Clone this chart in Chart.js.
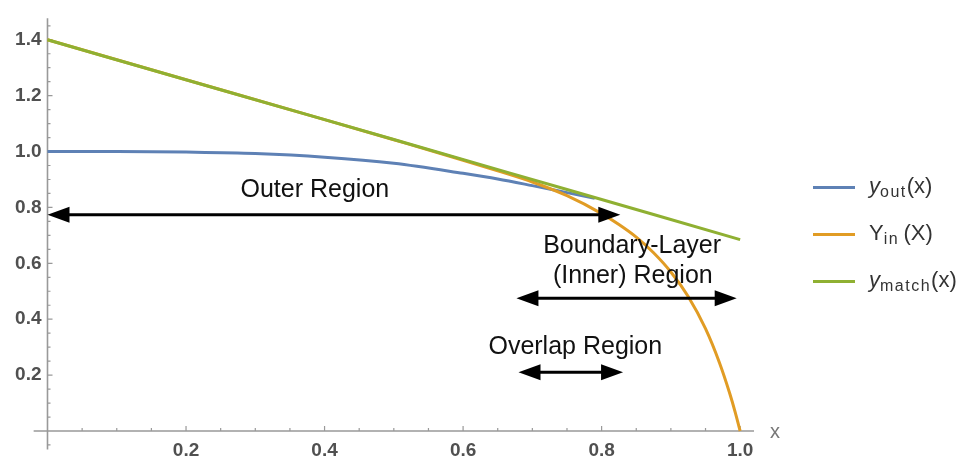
<!DOCTYPE html>
<html>
<head>
<meta charset="utf-8">
<script src="https://cdn.jsdelivr.net/npm/chart.js@4.4.1/dist/chart.umd.min.js"></script>
<style>
  html, body { margin: 0; padding: 0; background: #fff; }
  #wrap { position: relative; width: 971px; height: 463px; overflow: hidden; }
  #c { position: absolute; left: 0; top: 0; }
  .ln { position: absolute; left: 813px; width: 42px; height: 3px; }
  .tx { position: absolute; left: 869px; font-family: "Liberation Sans", Arial, sans-serif;
        font-size: 22px; color: #333; white-space: nowrap; line-height: 22px; }
  .tx sub { font-size: 16px; letter-spacing: 1.5px; vertical-align: -4px; line-height: 0; }
</style>
</head>
<body>
<div id="wrap">
  <canvas id="c" width="971" height="463"></canvas>
  <div id="legend"></div>
</div>
<script>
// ---- data ----
const xOut   = [0, 0.1, 0.2, 0.3, 0.4, 0.5, 0.6, 0.65, 0.7, 0.75, 0.79];
const yOut   = [1.000, 1.000, 0.998, 0.993, 0.980, 0.958, 0.922, 0.902, 0.878, 0.853, 0.833];

const xIn    = [0, 0.2, 0.4, 0.5, 0.6, 0.65, 0.7, 0.75, 0.8, 0.825, 0.85, 0.875, 0.9, 0.925, 0.95, 0.97, 0.985, 0.993, 1.0];
const yIn    = [1.400, 1.257, 1.114, 1.042, 0.969, 0.931, 0.891, 0.842, 0.778, 0.739, 0.694, 0.638, 0.569, 0.481, 0.366, 0.245, 0.134, 0.066, 0.000];

const xMatch = [0, 0.25, 0.5, 0.75, 1.0];
const yMatch = [1.400, 1.221, 1.043, 0.864, 0.685];

const xTickVals = [0.2, 0.4, 0.6, 0.8, 1.0];
const yTickVals = [0.2, 0.4, 0.6, 0.8, 1.0, 1.2, 1.4];
const xAxisTitle = 'x';

const seriesNames  = ['y_out(x)', 'Y_in(X)', 'y_match(x)'];
const legendMain   = ['y', 'Y', 'y'];
const legendSub    = ['out', 'in', 'match'];
const legendArg    = ['(x)', '(X)', '(x)'];
const legendItalic = [true, false, true];

const regionLabels = ['Outer Region', 'Boundary-Layer', '(Inner) Region', 'Overlap Region'];

// ---- styles / layout ----
const colors = ['#5E81B5', '#E19C24', '#8FB032'];
const FONT = '"Liberation Sans", Arial, sans-serif';

const textSpots = [            // data-space anchors for the region labels
  { x: 0.386, y: 0.862 },
  { x: 0.844, y: 0.661 },
  { x: 0.845, y: 0.556 },
  { x: 0.762, y: 0.300 }
];
const arrowSpots = [           // double arrows: from x1 to x2 at height y (data space)
  { x1: 0.0,   x2: 0.827, y: 0.774 },
  { x1: 0.677, x2: 0.995, y: 0.475 },
  { x1: 0.680, x2: 0.831, y: 0.2105 }
];

function pts(xs, ys) { return xs.map((x, i) => ({ x: x, y: ys[i] })); }

const mathAxes = {
  id: 'mathAxes',
  beforeDatasetsDraw(chart) {
    const ctx = chart.ctx, xs = chart.scales.x, ys = chart.scales.y;
    const x0 = xs.getPixelForValue(0), y0 = ys.getPixelForValue(0);
    ctx.save();
    ctx.strokeStyle = '#999';
    ctx.lineWidth = 1.6;
    ctx.beginPath();
    ctx.moveTo(xs.getPixelForValue(-0.02), y0);
    ctx.lineTo(xs.getPixelForValue(1.02), y0);
    ctx.moveTo(x0, ys.getPixelForValue(-0.066));
    ctx.lineTo(x0, ys.getPixelForValue(1.477));
    ctx.stroke();
    ctx.lineWidth = 1.2;
    ctx.beginPath();
    for (let k = 1; k <= 20; k++) {
      const v = k * 0.05;
      const major = (k % 4 === 0);
      const px = xs.getPixelForValue(v);
      ctx.moveTo(px, y0);
      ctx.lineTo(px, y0 - (major ? 5 : 3));
    }
    for (let k = -1; k <= 29; k++) {
      if (k === 0) continue;
      const v = k * 0.05;
      const major = (k % 4 === 0);
      const py = ys.getPixelForValue(v);
      ctx.moveTo(x0, py);
      ctx.lineTo(x0 + (major ? 5 : 3), py);
    }
    ctx.stroke();
    // axis title
    ctx.fillStyle = '#777';
    ctx.font = '20px ' + FONT;
    ctx.textAlign = 'left';
    ctx.textBaseline = 'middle';
    ctx.fillText(xAxisTitle, xs.getPixelForValue(1.02) + 16, y0 + 1);
    ctx.restore();
  },
  afterDatasetsDraw(chart) {
    const ctx = chart.ctx, xs = chart.scales.x, ys = chart.scales.y;
    ctx.save();
    ctx.strokeStyle = '#000';
    ctx.fillStyle = '#000';
    ctx.lineWidth = 3;
    const HL = 22, HW = 8;
    arrowSpots.forEach(a => {
      const xa = xs.getPixelForValue(a.x1), xb = xs.getPixelForValue(a.x2), y = ys.getPixelForValue(a.y);
      ctx.beginPath();
      ctx.moveTo(xa + HL - 2, y);
      ctx.lineTo(xb - HL + 2, y);
      ctx.stroke();
      ctx.beginPath();
      ctx.moveTo(xa, y); ctx.lineTo(xa + HL, y - HW); ctx.lineTo(xa + HL, y + HW); ctx.closePath();
      ctx.fill();
      ctx.beginPath();
      ctx.moveTo(xb, y); ctx.lineTo(xb - HL, y - HW); ctx.lineTo(xb - HL, y + HW); ctx.closePath();
      ctx.fill();
    });
    ctx.fillStyle = '#111';
    ctx.font = '25px ' + FONT;
    ctx.textAlign = 'center';
    ctx.textBaseline = 'middle';
    regionLabels.forEach((t, i) => {
      ctx.fillText(t, xs.getPixelForValue(textSpots[i].x), ys.getPixelForValue(textSpots[i].y));
    });
    ctx.restore();
  }
};

const tickFont = { family: FONT, size: 19, weight: 'bold' };

new Chart(document.getElementById('c'), {
  type: 'line',
  data: {
    datasets: [
      { label: seriesNames[0], data: pts(xOut, yOut), borderColor: colors[0], borderWidth: 3,
        pointRadius: 0, fill: false, cubicInterpolationMode: 'monotone', clip: false, order: 3 },
      { label: seriesNames[1], data: pts(xIn, yIn), borderColor: colors[1], borderWidth: 3,
        pointRadius: 0, fill: false, cubicInterpolationMode: 'monotone', clip: false, order: 2 },
      { label: seriesNames[2], data: pts(xMatch, yMatch), borderColor: colors[2], borderWidth: 3,
        pointRadius: 0, fill: false, cubicInterpolationMode: 'monotone', clip: false, order: 1 }
    ]
  },
  options: {
    responsive: false,
    animation: false,
    devicePixelRatio: 1,
    layout: { padding: { left: 0, top: 7, right: 217, bottom: 0 } },
    plugins: { legend: { display: false }, tooltip: { enabled: false } },
    scales: {
      x: {
        type: 'linear', min: 0, max: 1.02,
        grid: { display: false, drawTicks: false },
        border: { display: false },
        ticks: { font: tickFont, color: '#505050', padding: 8, maxRotation: 0, autoSkip: false,
                 callback: v => Number(v).toFixed(1) },
        afterBuildTicks: s => { s.ticks = xTickVals.map(v => ({ value: v })); },
        afterFit: s => { s.height = 32; }
      },
      y: {
        type: 'linear', min: 0, max: 1.48,
        grid: { display: false, drawTicks: false },
        border: { display: false },
        ticks: { font: tickFont, color: '#505050', padding: 6, autoSkip: false,
                 callback: v => Number(v).toFixed(1) },
        afterBuildTicks: s => { s.ticks = yTickVals.map(v => ({ value: v })); },
        afterFit: s => { s.width = 47.5; }
      }
    }
  },
  plugins: [mathAxes]
});

// HTML legend (for the subscripts)
const legendRowsY = [187, 234, 281];
const lg = document.getElementById('legend');
legendMain.forEach((m, i) => {
  const ln = document.createElement('div');
  ln.className = 'ln';
  ln.style.top = (legendRowsY[i] - 1.5) + 'px';
  ln.style.background = colors[i];
  lg.appendChild(ln);
  const tx = document.createElement('div');
  tx.className = 'tx';
  tx.style.top = (legendRowsY[i] - 12) + 'px';
  const main = document.createElement('span');
  main.textContent = m;
  if (legendItalic[i]) main.style.fontStyle = 'italic';
  const sub = document.createElement('sub');
  sub.textContent = legendSub[i];
  const arg = document.createElement('span');
  arg.textContent = (legendItalic[i] ? '' : '\u2009') + legendArg[i];
  tx.appendChild(main); tx.appendChild(sub); tx.appendChild(arg);
  lg.appendChild(tx);
});
</script>
</body>
</html>
